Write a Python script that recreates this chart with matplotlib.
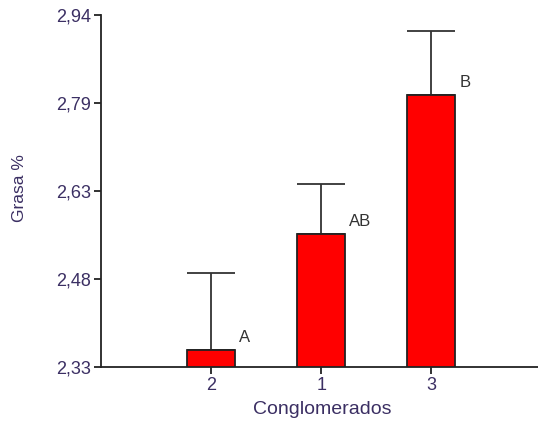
import matplotlib
matplotlib.use("Agg")
import matplotlib.pyplot as plt
import numpy as np

categories = ["2", "1", "3"]
means = [2.36, 2.56, 2.802]
err_upper = [0.133, 0.087, 0.110]
letters = ["A", "AB", "B"]
ytick_values = [2.33, 2.4825, 2.635, 2.7875, 2.94]

plt.rcParams['font.family'] = ['Liberation Sans', 'DejaVu Sans']
text_color = '#3b2f63'

W, H = 538, 424
fig = plt.figure(figsize=(W/100, H/100), dpi=100)
ax = fig.add_axes([101/W, (H-367)/H, (W-101)/W, (367-15)/H])

x = np.arange(len(categories))
width = 0.436
ax.bar(x, [m - 2.33 for m in means], bottom=2.33, width=width,
       color='#ff0000', edgecolor='#222222', linewidth=1.3, zorder=3)
ax.errorbar(x, means, yerr=[np.zeros(len(x)), err_upper], fmt='none',
            ecolor='#333333', elinewidth=1.3, capsize=17, capthick=1.3, zorder=2)

for xi, m, lab in zip(x, means, letters):
    ax.annotate(lab, xy=(xi + width/2, m), xytext=(3, 9), textcoords='offset points',
                ha='left', va='center', fontsize=12, color='#333333')

ax.set_ylim(2.33, 2.94)
ax.set_xlim(-1.0, 2.97)
ax.set_yticks(ytick_values)
ax.set_yticklabels([f"{v:.2f}".replace('.', ',') for v in ytick_values])
ax.set_xticks(x)
ax.set_xticklabels(categories)

for s in ['top', 'right']:
    ax.spines[s].set_visible(False)
for s in ['left', 'bottom']:
    ax.spines[s].set_color('#222222')
    ax.spines[s].set_linewidth(1.3)
ax.tick_params(axis='both', colors='#222222', labelcolor=text_color, labelsize=13,
               length=5, width=1.3, direction='out', pad=2)

fig.text(20/W, 1 - 188/H, "Grasa %", rotation=90, ha='center', va='center',
         fontsize=12.5, color=text_color)
fig.text(322/W, 1 - 410/H, "Conglomerados", ha='center', va='center',
         fontsize=14, color=text_color)

fig.savefig("out.png", dpi=100)
